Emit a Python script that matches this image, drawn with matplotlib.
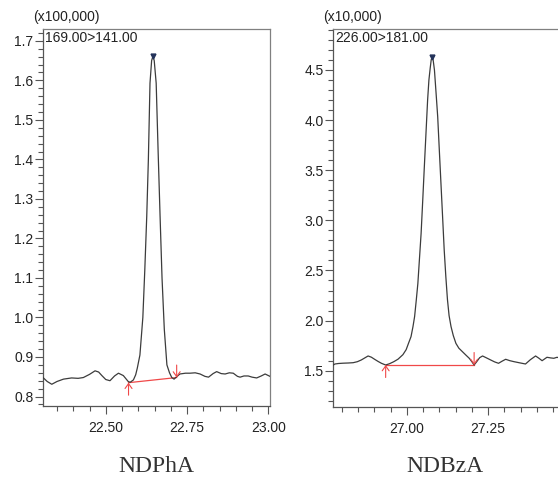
import matplotlib
matplotlib.use("Agg")
import matplotlib.pyplot as plt
from matplotlib.ticker import MultipleLocator, FormatStrFormatter

# --- NDPhA, m/z 169.00>141.00, intensity in units of 100,000 ---------------
ndpha_time = [22.307, 22.320, 22.334, 22.350, 22.370, 22.395, 22.415, 22.431,
              22.450, 22.467, 22.478, 22.488, 22.500, 22.513, 22.527, 22.539,
              22.554, 22.569, 22.575, 22.585, 22.592, 22.597, 22.605, 22.614,
              22.620, 22.626, 22.631, 22.636, 22.641, 22.645, 22.649, 22.655,
              22.661, 22.667, 22.673, 22.680, 22.688, 22.696, 22.703, 22.710,
              22.718, 22.728, 22.745, 22.759, 22.775, 22.790, 22.805, 22.816,
              22.830, 22.841, 22.855, 22.867, 22.880, 22.892, 22.905, 22.913,
              22.925, 22.938, 22.950, 22.964, 22.978, 22.990, 23.005]
ndpha_int = [0.848, 0.838, 0.831, 0.838, 0.844, 0.847, 0.846, 0.848,
             0.856, 0.865, 0.862, 0.853, 0.843, 0.840, 0.852, 0.859,
             0.853, 0.838, 0.836, 0.842, 0.855, 0.872, 0.905, 1.000,
             1.120, 1.256, 1.400, 1.593, 1.650, 1.661, 1.650, 1.593,
             1.420, 1.256, 1.100, 0.970, 0.880, 0.860, 0.848, 0.844,
             0.850, 0.857, 0.859, 0.859, 0.860, 0.857, 0.851, 0.849,
             0.858, 0.863, 0.858, 0.857, 0.860, 0.859, 0.851, 0.849,
             0.852, 0.852, 0.849, 0.847, 0.852, 0.857, 0.851]
ndpha_base = [(22.570, 0.835), (22.718, 0.848)]
ndpha_apex = (22.645, 1.661)

# --- NDBzA, m/z 226.00>181.00, intensity in units of 10,000 ----------------
ndbza_time = [26.774, 26.779, 26.790, 26.804, 26.820, 26.835, 26.848, 26.860,
              26.872, 26.881, 26.891, 26.901, 26.912, 26.922, 26.935, 26.947,
              26.960, 26.973, 26.988, 26.998, 27.006, 27.013, 27.019, 27.024,
              27.029, 27.034, 27.039, 27.044, 27.049, 27.054, 27.059, 27.064,
              27.068, 27.072, 27.075, 27.078, 27.081, 27.085, 27.090, 27.095,
              27.100, 27.105, 27.110, 27.115, 27.120, 27.125, 27.130, 27.136,
              27.143, 27.151, 27.160, 27.171, 27.182, 27.192, 27.200, 27.207,
              27.215, 27.224, 27.233, 27.245, 27.258, 27.270, 27.282, 27.293,
              27.304, 27.317, 27.330, 27.348, 27.365, 27.380, 27.396, 27.406,
              27.416, 27.431, 27.442, 27.452, 27.462, 27.472]
ndbza_int = [1.557, 1.567, 1.572, 1.575, 1.577, 1.580, 1.590, 1.607,
             1.630, 1.647, 1.635, 1.614, 1.592, 1.574, 1.557, 1.570,
             1.590, 1.615, 1.660, 1.710, 1.780, 1.840, 1.940, 2.040,
             2.200, 2.370, 2.620, 2.870, 3.200, 3.540, 3.870, 4.200,
             4.400, 4.520, 4.600, 4.634, 4.600, 4.500, 4.270, 4.035,
             3.700, 3.370, 3.040, 2.705, 2.440, 2.210, 2.050, 1.940,
             1.850, 1.773, 1.725, 1.690, 1.655, 1.624, 1.590, 1.557,
             1.590, 1.630, 1.647, 1.628, 1.607, 1.588, 1.574, 1.595,
             1.614, 1.600, 1.590, 1.578, 1.567, 1.610, 1.647, 1.625,
             1.600, 1.634, 1.628, 1.624, 1.634, 1.625]
ndbza_base = [(26.935, 1.557), (27.207, 1.557)]
ndbza_apex = (27.078, 4.634)

W, H = 558, 478
LINE = "#3c3c3c"
RED = "#f04848"
SANS = "Liberation Sans"

fig = plt.figure(figsize=(W / 100, H / 100), dpi=100)


def px_rect(x0, y0, x1, y1):
    # pixel box (top-left origin) -> figure fraction rect
    return [x0 / W, 1 - y1 / H, (x1 - x0) / W, (y1 - y0) / H]


def panel(rect, t, y, base, apex, xlim, ylim, ymaj, ymin, yfmt,
          scale_txt, mrm_txt, name, name_x):
    ax = fig.add_axes(rect)
    ax.plot(t, y, color=LINE, lw=0.9, zorder=3)
    ax.plot(*apex, marker="v", ms=3.5, color="#23325a", zorder=4)
    (x0, y0), (x1, y1) = base
    ax.plot([x0, x1], [y0, y1], color=RED, lw=0.9, zorder=2)
    arrow = dict(arrowstyle="->,head_length=0.35,head_width=0.25",
                 color=RED, lw=0.8, shrinkA=0, shrinkB=0)
    ax.annotate("", xy=(x0, y0), xytext=(0, -9), textcoords="offset points",
                arrowprops=arrow)
    ax.annotate("", xy=(x1, y1), xytext=(0, 9), textcoords="offset points",
                arrowprops=arrow)

    ax.set_xlim(*xlim)
    ax.set_ylim(*ylim)
    ax.xaxis.set_major_locator(MultipleLocator(0.25))
    ax.xaxis.set_minor_locator(MultipleLocator(0.05))
    ax.xaxis.set_major_formatter(FormatStrFormatter("%.2f"))
    ax.yaxis.set_major_locator(MultipleLocator(ymaj))
    ax.yaxis.set_minor_locator(MultipleLocator(ymin))
    ax.yaxis.set_major_formatter(FormatStrFormatter(yfmt))
    ax.tick_params(which="both", direction="out", color="#555555",
                   width=0.8, labelsize=10, labelcolor="#222222")
    ax.tick_params(which="major", length=6)
    ax.tick_params(which="minor", length=3.5)
    ax.tick_params(axis="x", which="major", pad=5)
    ax.tick_params(axis="y", which="major", pad=1)
    for lbl in ax.get_xticklabels() + ax.get_yticklabels():
        lbl.set_family(SANS)
    for s in ax.spines.values():
        s.set_color("#808080")
        s.set_linewidth(0.9)
    ax.spines["left"].set_color("#555555")
    ax.spines["bottom"].set_color("#555555")

    ax.text(-0.045, 1.012, scale_txt, transform=ax.transAxes, ha="left",
            va="bottom", fontsize=10, family=SANS, color="#222222")
    ax.text(0.008, 0.995, mrm_txt, transform=ax.transAxes, ha="left",
            va="top", fontsize=10, family=SANS, color="#222222")
    fig.text(name_x / W, 1 - 477 / H, name, ha="center", va="bottom",
             fontsize=17, family="Liberation Serif", color="#333333")
    return ax


panel(px_rect(43, 29, 270, 406), ndpha_time, ndpha_int, ndpha_base, ndpha_apex,
      (22.307, 23.005), (0.776, 1.730), 0.1, 0.02, "%.1f",
      "(x100,000)", "169.00>141.00", "NDPhA", 156)
panel(px_rect(333.3, 29, 560.3, 406.7), ndbza_time, ndbza_int, ndbza_base,
      ndbza_apex, (26.774, 27.472), (1.141, 4.909), 0.5, 0.1, "%.1f",
      "(x10,000)", "226.00>181.00", "NDBzA", 445)

fig.savefig("out.png", dpi=100, facecolor="white")
